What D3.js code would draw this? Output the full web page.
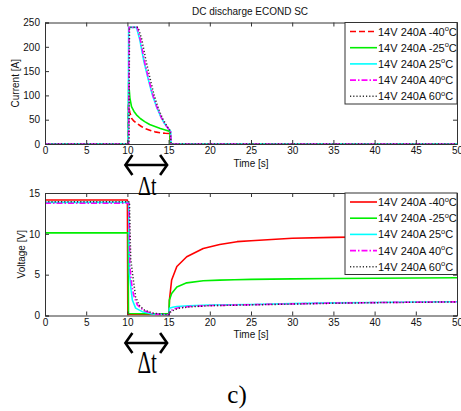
<!DOCTYPE html>
<html>
<head>
<meta charset="utf-8">
<script src="https://cdn.jsdelivr.net/npm/d3@7"></script>
<style>
  html, body { margin: 0; padding: 0; background: #fff; }
  svg { display: block; font-family: "Liberation Sans", Arial, sans-serif; }
</style>
</head>
<body>
<svg id="chart" width="461" height="411"></svg>
<script>
// ---- Data: DC discharge of ECOND supercapacitor, 14 V / 240 A at five temperatures ----
const legendLabels = ["14V 240A -40", "14V 240A -25", "14V 240A 25", "14V 240A 40", "14V 240A 60"];
const xTicks = [0, 5, 10, 15, 20, 25, 30, 35, 40, 45, 50];
const currentTicks = [0, 50, 100, 150, 200, 250];
const voltageTicks = [0, 5, 10, 15];

// Current [A] vs time [s]
const currentM40 = [[0,0],[10.05,0],[10.1,80],[10.3,65],[10.5,53],[10.8,47],[11.1,43],[11.7,36],[12.1,32],[12.8,28],[13.35,25],[14,23],[14.6,22],[15.15,21.5],[15.2,0],[50,0]];
const currentM25 = [[0,0],[10.1,0],[10.15,128],[10.3,95],[10.5,77],[10.8,67],[11.1,60],[11.6,52],[12.1,46],[12.7,40],[13.35,36],[14,32],[14.6,29],[15.15,26],[15.2,0],[50,0]];
const currentP25 = [[0,0],[10.1,0],[10.15,240],[11.1,240],[11.5,215],[12,170],[12.5,135],[13,103],[13.5,78],[14,58],[14.5,42],[15,31],[15.25,26],[15.3,0],[50,0]];
const currentP40 = [[0,0],[10.15,0],[10.2,240],[11.2,240],[11.6,212],[12.1,168],[12.6,132],[13.1,100],[13.6,75],[14.1,55],[14.6,40],[15.05,30],[15.25,25],[15.3,0],[50,0]];
const currentP60 = [[0,0],[10.2,0],[10.25,240],[11.3,240],[11.75,215],[12.25,172],[12.75,135],[13.25,100],[13.75,74],[14.25,53],[14.75,38],[15.2,27],[15.3,0],[50,0]];

// Voltage [V] vs time [s]
const voltageM40 = [[0,14.15],[10.0,14.15],[10.05,0.12],[15.05,0.1],[15.1,1.9],[15.37,4.35],[16,6.0],[17.2,7.2],[19.2,8.2],[21.2,8.7],[23.3,9.04],[25,9.16],[30,9.45],[35,9.57],[40,9.65],[45,9.7],[50,9.73]];
const voltageM25 = [[0,10.12],[10.08,10.12],[10.13,0.25],[15.05,0.2],[15.1,1.9],[15.37,2.7],[16,3.5],[17.2,4.0],[19.2,4.25],[21.2,4.33],[23,4.38],[25,4.42],[30,4.48],[35,4.53],[40,4.57],[45,4.6],[50,4.63]];
const voltageP25 = [[0,13.85],[10.15,13.85],[10.25,5.2],[10.45,3.1],[10.6,1.9],[11.0,0.9],[11.8,0.47],[13,0.18],[14.6,0.1],[15.05,0.08],[15.1,0.88],[15.5,1.0],[16,1.1],[17.5,1.2],[20,1.28],[25,1.35],[30,1.45],[35,1.55],[40,1.6],[45,1.65],[50,1.69]];
const voltageP40 = [[0,13.75],[10.2,13.75],[10.3,6],[10.5,4],[10.75,2.5],[11.2,1.3],[12,0.6],[13.2,0.2],[15.05,0.08],[15.15,0.5],[15.6,0.8],[16.2,0.95],[17.5,1.1],[20,1.22],[25,1.32],[30,1.42],[35,1.52],[40,1.58],[45,1.63],[50,1.67]];
const voltageP60 = [[0,13.92],[10.25,13.92],[10.4,7],[10.7,4.5],[11.0,2.3],[11.4,1.3],[12,0.7],[13,0.3],[15.05,0.08],[15.2,0.4],[15.7,0.7],[16.3,0.9],[17.5,1.05],[20,1.2],[25,1.3],[30,1.4],[35,1.5],[40,1.57],[45,1.62],[50,1.66]];

// ---- Styles per series ----
const seriesColors = ["#ff0000", "#00ee00", "#00ffff", "#ff00ff", "#333333"];
const currentDash = ["6,3", null, null, "6,2,1.5,2", "1.2,2"];
const voltageDash = [null, null, null, "6,2,1.5,2", "1.2,2"];

const svg = d3.select("#chart");
const axisColor = "#333";

const x = d3.scaleLinear().domain([0, 50]).range([45, 457]);
const yI = d3.scaleLinear().domain([0, 250]).range([144, 22.5]);
const yV = d3.scaleLinear().domain([0, 15]).range([315.5, 193]);

function drawPanel(opts) {
  const { y, yTicks, series, dash, ylabel, ylabelX, title, labels, lineW } = opts;
  const [x0, x1] = x.range();
  const [yb, yt] = y.range();
  const id = "clip" + Math.round(yt);
  svg.append("clipPath").attr("id", id)
    .append("rect").attr("x", x0).attr("y", yt).attr("width", x1 - x0).attr("height", yb - yt);

  const g = svg.append("g");
  g.append("rect").attr("x", x0).attr("y", yt).attr("width", x1 - x0).attr("height", yb - yt)
    .attr("fill", "#fff");

  // data lines
  const line = d3.line().x(d => x(d[0])).y(d => y(d[1]));
  const lg = g.append("g").attr("clip-path", `url(#${id})`);
  series.forEach((s, i) => {
    lg.append("path").datum(s).attr("d", line)
      .attr("fill", "none")
      .attr("stroke", seriesColors[i])
      .attr("stroke-width", i === 4 ? 1.5 : lineW)
      .attr("stroke-dasharray", dash[i])
      .attr("stroke-linejoin", "round");
  });

  // axes (ticks point inward, on all four sides)
  const tickLen = 4;
  const bottom = d3.axisBottom(x).tickValues(xTicks).tickSize(-tickLen).tickPadding(3).tickFormat(d3.format("d"));
  const top = d3.axisTop(x).tickValues(xTicks).tickSize(-tickLen).tickFormat("");
  const left = d3.axisLeft(y).tickValues(yTicks).tickSize(-tickLen).tickPadding(5).tickFormat(d3.format("d"));
  const right = d3.axisRight(y).tickValues(yTicks).tickSize(-tickLen).tickFormat("");

  const axB = g.append("g").attr("transform", `translate(0,${yb})`).call(bottom);
  const axT = g.append("g").attr("transform", `translate(0,${yt})`).call(top);
  const axL = g.append("g").attr("transform", `translate(${x0},0)`).call(left);
  const axR = g.append("g").attr("transform", `translate(${x1},0)`).call(right);
  [axB, axT, axL, axR].forEach(a => {
    a.select(".domain").attr("stroke", axisColor);
    a.selectAll(".tick line").attr("stroke", axisColor);
    a.selectAll("text").attr("font-size", 10).attr("fill", "#111")
      .attr("font-family", "'Liberation Sans', Arial, sans-serif");
  });

  // axis titles
  g.append("text").attr("x", (x0 + x1) / 2).attr("y", yb + 22.5)
    .attr("text-anchor", "middle").attr("font-size", 10).attr("fill", "#111")
    .text("Time [s]");
  g.append("text")
    .attr("transform", `translate(${ylabelX},${(yb + yt) / 2}) rotate(-90)`)
    .attr("text-anchor", "middle").attr("font-size", 10).attr("fill", "#111")
    .text(ylabel);
  if (title) {
    g.append("text").attr("x", (x0 + x1) / 2 - 1).attr("y", yt - 8)
      .attr("text-anchor", "middle").attr("font-size", 10).attr("fill", "#111")
      .text(title);
  }

  // legend
  const lx = 345, lw = x1 - lx, lh = 81.5;
  const leg = g.append("g");
  leg.append("rect").attr("x", lx).attr("y", yt).attr("width", lw).attr("height", lh)
    .attr("fill", "#fff").attr("stroke", axisColor).attr("stroke-width", 1);
  labels.forEach((lab, i) => {
    const ly = yt + 9 + i * 16.2;
    leg.append("line").attr("x1", lx + 5).attr("x2", lx + 32).attr("y1", ly).attr("y2", ly)
      .attr("stroke", seriesColors[i]).attr("stroke-width", i === 4 ? 1.5 : lineW)
      .attr("stroke-dasharray", dash[i]);
    const t = leg.append("text").attr("x", lx + 33).attr("y", ly + 4)
      .attr("font-size", 11).attr("fill", "#111");
    t.append("tspan").text(lab);
    t.append("tspan").attr("dy", -4.5).attr("font-size", 7.5).text("o");
    t.append("tspan").attr("dy", 4.5).text("C");
  });
}

drawPanel({
  y: yI, yTicks: currentTicks,
  series: [currentM40, currentM25, currentP25, currentP40, currentP60],
  dash: currentDash, ylabel: "Current [A]", ylabelX: 19,
  title: "DC discharge ECOND SC", labels: legendLabels, lineW: 1.6
});
drawPanel({
  y: yV, yTicks: voltageTicks,
  series: [voltageM40, voltageM25, voltageP25, voltageP40, voltageP60],
  dash: voltageDash, ylabel: "Voltage [V]", ylabelX: 25,
  title: null, labels: legendLabels, lineW: 1.6
});

// ---- Δt annotations: double-headed arrow spanning the 10 s – 15 s discharge window ----
function deltaT(yArrow, yText, fs, sy) {
  const xa = x(10) - 2, xb = x(15) - 1.5;
  const g = svg.append("g").attr("stroke", "#000").attr("stroke-width", 2.6)
    .attr("fill", "none").attr("stroke-linecap", "butt").attr("stroke-linejoin", "miter");
  g.append("line").attr("x1", xa).attr("x2", xb).attr("y1", yArrow).attr("y2", yArrow);
  g.append("path").attr("d", `M${xa + 7},${yArrow - 10} L${xa},${yArrow} L${xa + 7},${yArrow + 10}`);
  g.append("path").attr("d", `M${xb - 7},${yArrow - 10} L${xb},${yArrow} L${xb - 7},${yArrow + 10}`);
  svg.append("text")
    .attr("transform", `translate(${(xa + xb) / 2 + 1},${yText}) scale(1,${sy})`)
    .attr("text-anchor", "middle")
    .attr("font-family", "'Liberation Serif', 'Times New Roman', serif")
    .attr("font-size", fs).attr("fill", "#000")
    .text("Δt");
}
deltaT(165, 195, 20, 1.35);
deltaT(343, 373, 21, 1.5);

// panel caption
svg.append("text").attr("x", 237).attr("y", 403)
  .attr("text-anchor", "middle")
  .attr("font-family", "'Liberation Serif', 'Times New Roman', serif")
  .attr("font-size", 25).attr("fill", "#000")
  .text("c)");
</script>
</body>
</html>
